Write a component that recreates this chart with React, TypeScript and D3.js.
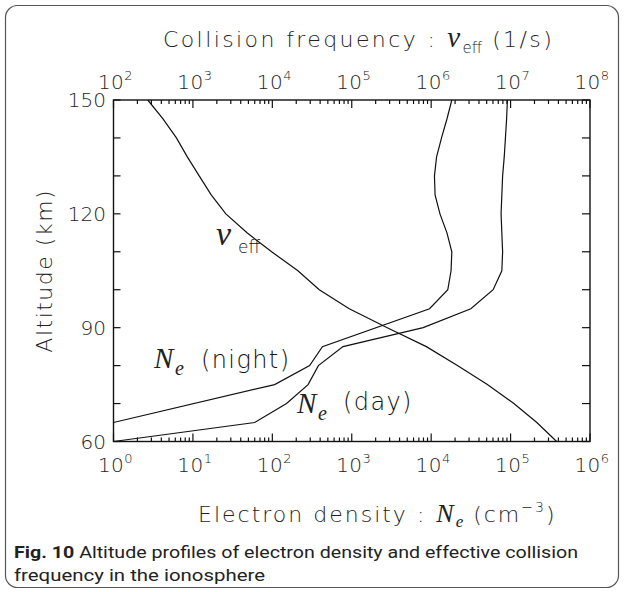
import React from "react";
import * as d3 from "d3";

// ---- data ----
const altNight = [65, 75, 80, 85, 95, 100, 105, 110, 115, 120, 125, 130, 135, 140, 145, 150];
const neNight = [1, 107, 295, 427, 9550, 16200, 17800, 18200, 15800, 12900, 11200, 11000, 11700, 13500, 15800, 18200];

const altDay = [60, 65, 70, 75, 80, 85, 90, 95, 100, 105, 110, 115, 120, 125, 130, 135, 140, 145, 150];
const neDay = [1, 60, 151, 282, 380, 776, 7940, 31600, 60300, 77600, 79400, 77600, 75900, 77600, 79400, 83200, 86100, 89100, 91200];

const altNu = [60, 65, 70, 75, 80, 85, 90, 95, 100, 105, 110, 115, 120, 125, 130, 135, 140, 145, 150];
const nuEff = [3.8e7, 2.14e7, 1.1e7, 5.1e6, 2.14e6, 8.7e5, 2.8e5, 9.3e4, 3.9e4, 2.1e4, 9.8e3, 4.8e3, 2.6e3, 1.7e3, 1.2e3, 850, 620, 420, 270];

const bottomExps = [0, 1, 2, 3, 4, 5, 6];
const topExps = [2, 3, 4, 5, 6, 7, 8];
const altMajor = [60, 90, 120, 150];
const altMinor = [70, 80, 100, 110, 130, 140];

const SANS = "'DejaVu Sans', 'Liberation Sans', sans-serif";
const SERIF = "'Liberation Serif', 'Times New Roman', serif";
const CAP = "'Roboto', 'Liberation Sans', sans-serif";
const W = 200;

export default function App() {
  const left = 113.5, right = 590, top = 100, bottom = 441.5;
  const xN = d3.scaleLog().domain([1, 1e6]).range([left, right]);
  const xV = d3.scaleLog().domain([1e2, 1e8]).range([left, right]);
  const y = d3.scaleLinear().domain([60, 150]).range([bottom, top]);

  const mk = (xs: number[], alts: number[], sx: any) =>
    d3.line<number>().x((_, i) => sx(xs[i])).y((_, i) => y(alts[i]))(xs.map((_, i) => i)) || "";

  const minorLog = (exps: number[], sx: any) => {
    const out: number[] = [];
    for (let k = 0; k < exps.length - 1; k++) {
      for (let m = 2; m <= 9; m++) out.push(sx(m * Math.pow(10, exps[k])));
    }
    return out;
  };

  const tickStroke = { stroke: "#111", strokeWidth: 1.2 };

  return (
    <svg width={624} height={592} style={{ display: "block", position: "absolute", left: 0, top: 0 }}>
      <rect x={0} y={0} width={624} height={592} fill="#fff" />
      <rect x={5.5} y={5.5} width={613} height={582} rx={12} fill="none" stroke="#555" strokeWidth={1.2} />

      {/* frame */}
      <rect x={left} y={top} width={right - left} height={bottom - top} fill="none" stroke="#111" strokeWidth={1.4} />

      {/* bottom axis ticks */}
      {bottomExps.map((e) => (
        <line key={"bM" + e} x1={xN(Math.pow(10, e))} x2={xN(Math.pow(10, e))} y1={bottom} y2={bottom - 8} {...tickStroke} />
      ))}
      {minorLog(bottomExps, xN).map((x, i) => (
        <line key={"bm" + i} x1={x} x2={x} y1={bottom} y2={bottom - 4} {...tickStroke} />
      ))}
      {/* top axis ticks */}
      {topExps.map((e) => (
        <line key={"tM" + e} x1={xV(Math.pow(10, e))} x2={xV(Math.pow(10, e))} y1={top} y2={top + 8} {...tickStroke} />
      ))}
      {minorLog(topExps, xV).map((x, i) => (
        <line key={"tm" + i} x1={x} x2={x} y1={top} y2={top + 4} {...tickStroke} />
      ))}
      {/* left/right ticks */}
      {[...altMajor, ...altMinor].map((a) => (
        <g key={"a" + a}>
          <line x1={left} x2={left + 7} y1={y(a)} y2={y(a)} {...tickStroke} />
          <line x1={right} x2={right - 8} y1={y(a)} y2={y(a)} {...tickStroke} />
        </g>
      ))}

      {/* bottom tick labels */}
      {bottomExps.map((e) => (
        <text key={"bl" + e} x={xN(Math.pow(10, e)) + 2} y={472} textAnchor="middle" fontFamily={SANS} fontWeight={W} fontSize={20} letterSpacing={0.5} fill="#222">
          10<tspan fontSize={13} dy={-9}>{e}</tspan>
        </text>
      ))}
      {/* top tick labels */}
      {topExps.map((e) => (
        <text key={"tl" + e} x={xV(Math.pow(10, e)) + 2} y={89} textAnchor="middle" fontFamily={SANS} fontWeight={W} fontSize={20} letterSpacing={0.5} fill="#222">
          10<tspan fontSize={13} dy={-9}>{e}</tspan>
        </text>
      ))}
      {/* left tick labels */}
      {altMajor.map((a) => (
        <text key={"ll" + a} x={106} y={y(a) + 7} textAnchor="end" fontFamily={SANS} fontWeight={W} fontSize={20} fill="#222">
          {a}
        </text>
      ))}

      {/* curves */}
      <path d={mk(nuEff, altNu, xV)} fill="none" stroke="#111" strokeWidth={1.2} />
      <path d={mk(neNight, altNight, xN)} fill="none" stroke="#111" strokeWidth={1.2} />
      <path d={mk(neDay, altDay, xN)} fill="none" stroke="#111" strokeWidth={1.2} />

      {/* in-plot labels */}
      <text x={216} y={245} fontFamily={SERIF} fontStyle="italic" fontSize={34} fill="#222">ν</text>
      <text x={238} y={253} fontFamily={SANS} fontWeight={W} fontSize={17} fill="#111">eff</text>

      <text x={154} y={368} fontFamily={SERIF} fontStyle="italic" fontSize={29} fill="#222">N</text>
      <text x={175} y={375} fontFamily={SERIF} fontStyle="italic" fontSize={20} fill="#222">e</text>
      <text x={201} y={368} fontFamily={SANS} fontWeight={W} fontSize={24} letterSpacing={1.4} fill="#111">(night)</text>

      <text x={297} y={413} fontFamily={SERIF} fontStyle="italic" fontSize={29} fill="#222">N</text>
      <text x={318} y={420} fontFamily={SERIF} fontStyle="italic" fontSize={20} fill="#222">e</text>
      <text x={343} y={410} fontFamily={SANS} fontWeight={W} fontSize={24} letterSpacing={1.4} fill="#111">(day)</text>

      {/* top title */}
      <text x={163} y={47} fontFamily={SANS} fontWeight={W} fontSize={22} letterSpacing={2.4} fill="#222">
        Collision frequency :
        <tspan fontFamily={SERIF} fontStyle="italic" fontWeight="normal" fontSize={29} dx={10}>ν</tspan>
        <tspan fontSize={15} dy={6} letterSpacing={0}>eff</tspan>
        <tspan dy={-6} dx={10}>(1/s)</tspan>
      </text>

      {/* bottom title */}
      <text x={198} y={522} fontFamily={SANS} fontWeight={W} fontSize={22} letterSpacing={2} fill="#222">
        Electron density :
        <tspan fontFamily={SERIF} fontStyle="italic" fontWeight="normal" fontSize={26} dx={10}>N</tspan>
        <tspan fontFamily={SERIF} fontStyle="italic" fontWeight="normal" fontSize={17} dy={5} letterSpacing={0}>e</tspan>
        <tspan dy={-5} dx={10}>(cm</tspan>
        <tspan fontSize={14} dy={-10}>−3</tspan>
        <tspan dy={10}>)</tspan>
      </text>

      {/* left title */}
      <text transform={`translate(52,${(top + bottom) / 2}) rotate(-90)`} textAnchor="middle" fontFamily={SANS} fontWeight={W} fontSize={22} letterSpacing={1.5} fill="#222">
        Altitude (km)
      </text>

      {/* caption */}
      <text x={14} y={558} fontFamily={CAP} fontSize={17} fill="#222" textLength={564} lengthAdjust="spacingAndGlyphs">
        <tspan fontWeight="bold">Fig. 10</tspan>  Altitude profiles of electron density and effective collision
      </text>
      <text x={14} y={581} fontFamily={CAP} fontSize={17} fill="#222" textLength={251} lengthAdjust="spacingAndGlyphs">
        frequency in the ionosphere
      </text>
    </svg>
  );
}
